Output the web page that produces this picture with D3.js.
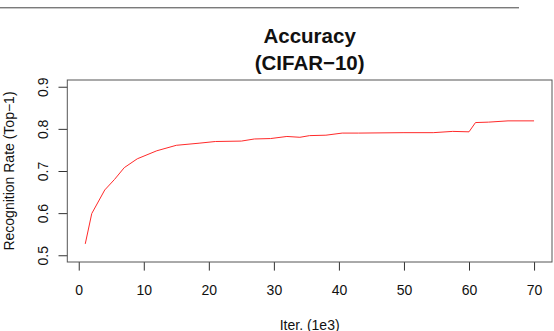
<!DOCTYPE html>
<html>
<head>
<meta charset="utf-8">
<script src="https://cdn.jsdelivr.net/npm/d3@7"></script>
<style>
  body { margin: 0; background: #fff; }
  svg { display: block; font-family: "Liberation Sans", Arial, Helvetica, sans-serif; }
</style>
</head>
<body>
<div id="chart"></div>
<script>
// Data (iterations in thousands, top-1 accuracy)
const iters = [1, 2, 4, 5.5, 7, 9, 12, 15, 18.5, 21, 25, 27, 29.5, 32, 34, 35.5, 38, 40.5, 43, 50, 54.5, 57.5, 60, 61, 63, 66, 70];
const accuracy = [0.527, 0.599, 0.655, 0.680, 0.708, 0.729, 0.748, 0.761, 0.766, 0.770, 0.771, 0.776, 0.777, 0.782, 0.780, 0.784, 0.785, 0.790, 0.790, 0.791, 0.791, 0.794, 0.793, 0.815, 0.816, 0.819, 0.819];
const xTicks = [0, 10, 20, 30, 40, 50, 60, 70];
const yTicks = [0.5, 0.6, 0.7, 0.8, 0.9];
const titleLines = ['Accuracy', '(CIFAR\u221210)'];

const W = 554, H = 331;
const box = { left: 67.3, right: 552, top: 80, bottom: 262 };

const svg = d3.select('#chart').append('svg')
    .attr('width', W)
    .attr('height', H);

// stray rule at the top of the page
svg.append('line')
    .attr('x1', 0).attr('x2', 519)
    .attr('y1', 7.8).attr('y2', 7.8)
    .attr('stroke', '#444')
    .attr('stroke-width', 1);

// R-style 4% padding around the data range
const xExt = d3.extent(iters), xPad = (xExt[1] - xExt[0]) * 0.04;
const yLim = [0.5, 0.9], yPad = (yLim[1] - yLim[0]) * 0.04;

const x = d3.scaleLinear()
    .domain([xExt[0] - xPad, xExt[1] + xPad])
    .range([box.left, box.right]);

const y = d3.scaleLinear()
    .domain([yLim[0] - yPad, yLim[1] + yPad])
    .range([box.bottom, box.top]);

// Axes
const xAxis = svg.append('g')
    .attr('transform', `translate(0,${box.bottom})`)
    .call(d3.axisBottom(x).tickValues(xTicks).tickSize(8.6).tickFormat(d3.format('d')));

xAxis.select('.domain').remove();
xAxis.selectAll('.tick line').attr('stroke', '#333');
xAxis.selectAll('.tick text')
    .attr('y', 33.2)
    .attr('dy', null)
    .style('font-size', '14px')
    .attr('fill', '#111');

const yAxis = svg.append('g')
    .attr('transform', `translate(${box.left},0)`)
    .call(d3.axisLeft(y).tickValues(yTicks).tickSize(8.8).tickFormat(d3.format('.1f')));

yAxis.select('.domain').remove();
yAxis.selectAll('.tick line').attr('stroke', '#333');
yAxis.selectAll('.tick text')
    .attr('x', null)
    .attr('dy', null)
    .attr('transform', 'translate(-19,0) rotate(-90)')
    .style('text-anchor', 'middle')
    .style('font-size', '14px')
    .attr('fill', '#111');

// Plot frame
svg.append('rect')
    .attr('x', box.left)
    .attr('y', box.top)
    .attr('width', box.right - box.left)
    .attr('height', box.bottom - box.top)
    .attr('fill', 'none')
    .attr('stroke', '#555')
    .attr('stroke-width', 1);

// Accuracy line
const points = iters.map((d, i) => ({ x: d, y: accuracy[i] }));

svg.append('path')
    .datum(points)
    .attr('fill', 'none')
    .attr('stroke', '#ff2a2a')
    .attr('stroke-width', 1)
    .attr('d', d3.line().x(d => x(d.x)).y(d => y(d.y)));

// Title
const cx = (box.left + box.right) / 2;
svg.selectAll('.title')
    .data(titleLines)
    .enter().append('text')
    .attr('class', 'title')
    .attr('x', cx)
    .attr('y', (d, i) => 42.5 + i * 27.5)
    .style('text-anchor', 'middle')
    .style('font-size', '20.5px')
    .style('font-weight', 'bold')
    .attr('fill', '#111')
    .text(d => d);

// Axis titles
svg.append('text')
    .attr('x', cx)
    .attr('y', 329.5)
    .style('text-anchor', 'middle')
    .style('font-size', '14px')
    .attr('fill', '#111')
    .text('Iter. (1e3)');

svg.append('text')
    .attr('transform', `translate(14,${(box.top + box.bottom) / 2}) rotate(-90)`)
    .style('text-anchor', 'middle')
    .style('font-size', '14px')
    .attr('fill', '#111')
    .text('Recognition Rate (Top\u22121)');
</script>
</body>
</html>
